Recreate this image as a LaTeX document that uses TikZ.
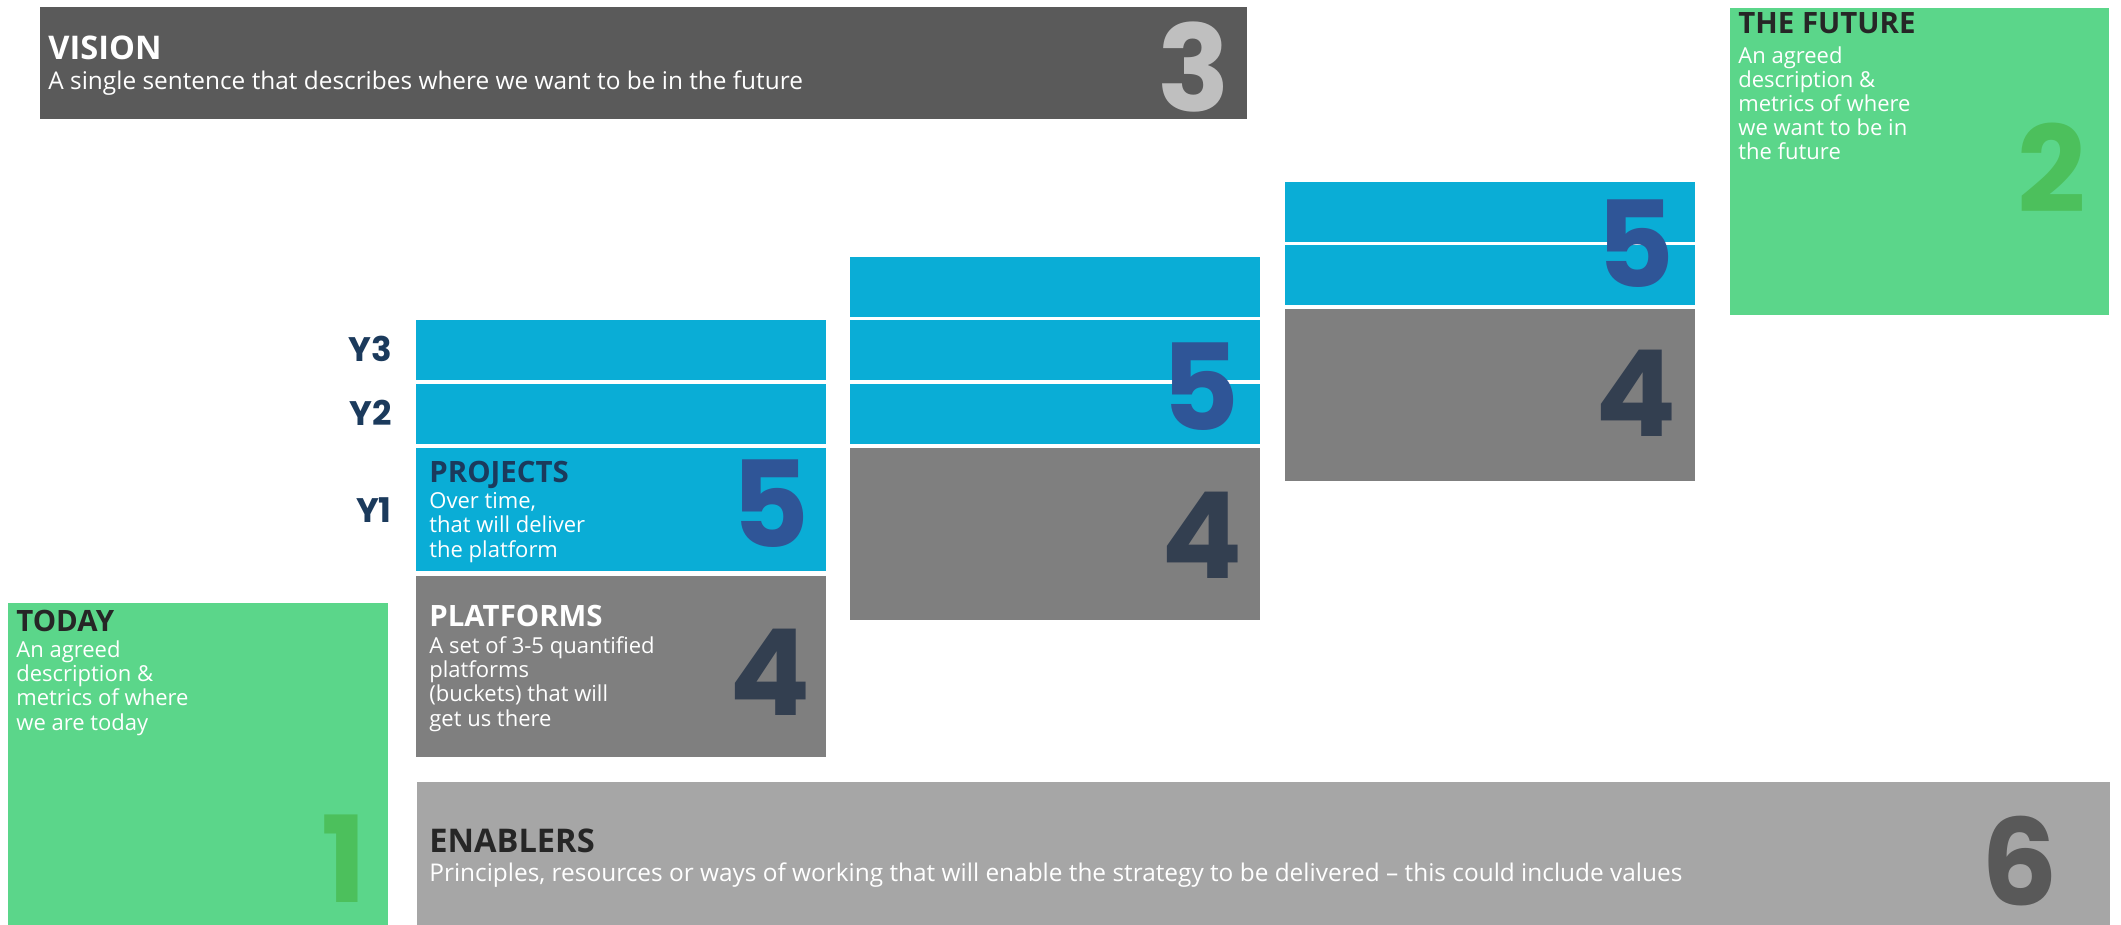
\documentclass[tikz,border=0pt]{standalone}
\usepackage{fontspec}
\setmainfont{Open Sans}
\newfontfamily\numfont{Poppins}

\definecolor{visiongray}{HTML}{5A5A5A}
\definecolor{visionnum}{HTML}{BFBFBF}
\definecolor{boxgreen}{HTML}{5BD68A}
\definecolor{greennum}{HTML}{4CC05C}
\definecolor{bandblue}{HTML}{0AADD6}
\definecolor{bluenum}{HTML}{2F5597}
\definecolor{platgray}{HTML}{7F7F7F}
\definecolor{platnum}{HTML}{333F50}
\definecolor{enablegray}{HTML}{A6A6A6}
\definecolor{enablenum}{HTML}{595959}
\definecolor{darktitle}{HTML}{262626}
\definecolor{navytitle}{HTML}{1B3A5C}

\tikzset{
  boxtitle/.style={anchor=base west, inner sep=0pt, font=\bfseries\fontsize{14.7}{14.7}\selectfont},
  bigtitle/.style={anchor=base west, inner sep=0pt, font=\bfseries\fontsize{16.3}{16.3}\selectfont},
  boxbody/.style={anchor=base west, inner sep=0pt, align=left, text=white, font=\fontsize{11}{12.1}\selectfont},
  widebody/.style={anchor=base west, inner sep=0pt, text=white, font=\fontsize{12.2}{12.2}\selectfont},
  bignum/.style={anchor=base, inner sep=0pt, font=\numfont\bfseries\fontsize{60}{60}\selectfont},
  yearlabel/.style={anchor=base east, inner sep=0pt, text=navytitle, font=\numfont\bfseries\fontsize{17}{17}\selectfont},
}

\begin{document}
\begin{tikzpicture}[%
x=0.5pt, y=-0.5pt,
]
\useasboundingbox (0,0) rectangle (2121,925);
%% vision;
\fill [visiongray] (40,7) rectangle (1247,119);
\node [bigtitle, text=white] (vistitle) at (48,60) {VISION};
\node [widebody] (visbody) at (48,90) {A single sentence that describes where we want to be in the future};
\node [bignum, text=visionnum] (num3) at (1194,112) {3};
%% the future (last line baselines);
\fill [boxgreen] (1730,8) rectangle (2109,315);
\node [boxtitle, text=darktitle] (futtitle) at (1738,34) {THE FUTURE};
\node [boxbody] (futbody) at (1738,160) {An agreed\\description \&\\metrics of where\\we want to be in\\the future};
\node [bignum, text=greennum] (num2) at (2052,213) {2};
%% today;
\fill [boxgreen] (8,603) rectangle (388,925);
\node [boxtitle, text=darktitle] (todtitle) at (16,631) {TODAY};
\node [boxbody] (todbody) at (16,730) {An agreed\\description \&\\metrics of where\\we are today};
\node [bignum, text=greennum] (num1) at (344,902) {1};
%% years;
\node [yearlabel] (y3) at (392,361) {Y3};
\node [yearlabel] (y2) at (392,425) {Y2};
\node [yearlabel] (y1) at (392,522) {Y1};
%% first column;
\fill [bandblue] (416,320) rectangle (826,380);
\fill [bandblue] (416,384) rectangle (826,444);
\fill [bandblue] (416,448) rectangle (826,571);
\fill [platgray] (416,576) rectangle (826,757);
\node [boxtitle, text=navytitle] (projtitle) at (429,482) {PROJECTS};
\node [boxbody] (projbody) at (429,557) {Over time,\\that will deliver\\the platform};
\node [bignum, text=bluenum] (num5a) at (770,547) {5};
\node [boxtitle, text=white] (plattitle) at (429,626) {PLATFORMS};
\node [boxbody] (platbody) at (429,726) {A set of 3-5 quantified\\platforms\\(buckets) that will\\get us there};
\node [bignum, text=platnum] (num4a) at (770,715) {4};
%% second column;
\fill [bandblue] (850,257) rectangle (1260,317);
\fill [bandblue] (850,320) rectangle (1260,380);
\fill [bandblue] (850,384) rectangle (1260,444);
\fill [platgray] (850,448) rectangle (1260,620);
\node [bignum, text=bluenum] (num5b) at (1200,430) {5};
\node [bignum, text=platnum] (num4b) at (1202,578) {4};
%% third column;
\fill [bandblue] (1285,182) rectangle (1695,242);
\fill [bandblue] (1285,245) rectangle (1695,305);
\fill [platgray] (1285,309) rectangle (1695,481);
\node [bignum, text=bluenum] (num5c) at (1635,288) {5};
\node [bignum, text=platnum] (num4c) at (1636,437) {4};
%% enablers;
\fill [enablegray] (417,782) rectangle (2110,925);
\node [bigtitle, text=darktitle] (enatitle) at (429,852) {ENABLERS};
\node [widebody] (enabody) at (429,881) {Principles, resources or ways of working that will enable the strategy to be delivered -- this could include values};
\node [bignum, text=enablenum] (num6) at (2020,905) {6};
\end{tikzpicture}
\end{document}
